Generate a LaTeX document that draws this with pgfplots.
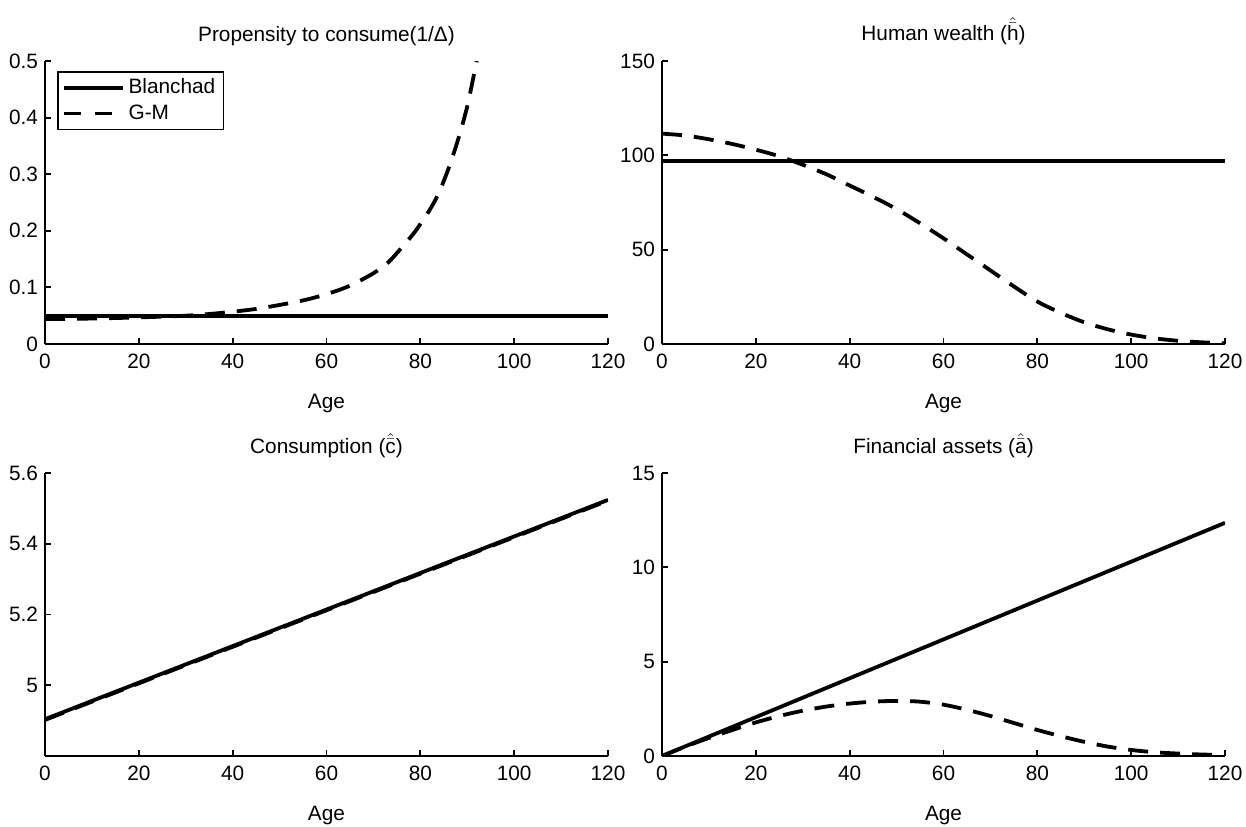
\documentclass[border=0pt]{standalone}
\usepackage{fontspec}
\setmainfont{Liberation Sans}
\usepackage{pgfplots}
\pgfplotsset{compat=1.18}
\newcommand\fs{\fontsize{10.4}{12.4}\selectfont}
\pgfplotsset{
  mystyle/.style={
    scale only axis, width=281.5pt, height=141.5pt,
    axis lines*=left, axis line style={line width=0.95pt, -},
    tick align=inside, major tick length=3pt, tick style={line width=0.95pt, black},
    xmin=0, xmax=120, xtick={0,20,...,120},
    /pgf/number format/assume math mode=true,
    /pgf/number format/fixed,
    ticklabel style={font=\fs},
    xticklabel style={yshift=-1.5pt},
    xlabel={Age},
    xlabel style={at={(axis description cs:0.5,0)}, anchor=base, yshift=-32pt, font=\fs},
    title style={at={(axis description cs:0.5,1)}, anchor=base, yshift=4pt, font=\fs},
    clip=true,
  },
  blan/.style={black, line width=1.9pt},
  gm/.style={black, line width=1.9pt, dash pattern=on 10pt off 6pt},
}
\begin{document}
\begin{tikzpicture}
\useasboundingbox (0,0) rectangle (623pt,413pt);
% Top-left
\begin{axis}[mystyle, at={(22.5pt,241pt)}, anchor=south west,
  ymin=0, ymax=0.5, ytick={0,0.1,...,0.5},
  title={Propensity to consume(1/Δ)},
  legend cell align=left,
  legend image code/.code={\draw[#1] (0pt,0pt) -- (29.5pt,0pt);},
  legend style={at={(axis description cs:0.0213,0.965)}, anchor=north west,
    draw=black, line width=0.8pt, font=\fs, inner xsep=2pt, inner ysep=1.5pt,
    row sep=0pt, nodes={inner sep=2pt}},
]
\addplot[blan] coordinates {(0,0.05) (120,0.05)};
\addlegendentry{Blanchad}
\addplot[gm, smooth,
  legend image code/.code={\draw[black, line width=1.9pt, dash pattern=on 8.5pt off 7pt] (0pt,0pt) -- (29.5pt,0pt);}]
coordinates {
(0,0.044) (10,0.045) (20,0.047) (30,0.050) (35,0.053) (40,0.057) (45,0.062)
(50,0.069) (55,0.077) (60,0.088) (65,0.103) (70,0.125) (73,0.143) (76,0.170)
(79,0.200) (82,0.237) (84,0.268) (86,0.31) (88,0.36) (90,0.42) (92,0.50) (93,0.545)};
\addlegendentry{G-M}
\end{axis}
% Top-right
\begin{axis}[mystyle, at={(331pt,241pt)}, anchor=south west,
  ymin=0, ymax=150, ytick={0,50,100,150},
  title={Human wealth ($\hat{\bar{\mbox{h}}}$)},
]
\addplot[blan] coordinates {(0,97.2) (120,97.2)};
\addplot[gm, smooth] coordinates {
(0,111.5) (5,110.5) (10,108.5) (15,106) (20,103) (25,99.5) (30,95) (35,90)
(40,84) (45,78) (50,71.5) (55,64) (60,56) (65,47.5) (70,39) (75,30.5)
(80,22.5) (85,16.5) (90,11.5) (95,7.8) (100,5) (105,3) (110,1.7) (115,0.9) (120,0.4)};
\end{axis}
% Bottom-left
\begin{axis}[mystyle, at={(22.5pt,35pt)}, anchor=south west,
  ymin=4.8, ymax=5.6, ytick={5,5.2,5.4,5.6},
  title={Consumption ($\hat{\bar{\mbox{c}}}$)},
]
\addplot[gm] coordinates {(0,4.902) (60,5.212) (120,5.522)};
\addplot[blan] coordinates {(0,4.904) (60,5.214) (120,5.524)};
\end{axis}
% Bottom-right
\begin{axis}[mystyle, at={(331pt,35pt)}, anchor=south west,
  ymin=0, ymax=15, ytick={0,5,10,15},
  title={Financial assets ($\hat{\bar{\mbox{a}}}$)},
]
\addplot[blan] coordinates {(0,0) (120,12.36)};
\addplot[gm, smooth] coordinates {
(0,0) (5,0.5) (10,0.96) (15,1.38) (20,1.78) (25,2.12) (30,2.40) (35,2.62)
(40,2.78) (45,2.88) (50,2.92) (55,2.88) (60,2.72) (65,2.45) (70,2.12)
(75,1.75) (80,1.38) (85,1.05) (90,0.75) (95,0.50) (100,0.32) (105,0.20)
(110,0.13) (115,0.08) (120,0.05)};
\end{axis}
\end{tikzpicture}
\end{document}
